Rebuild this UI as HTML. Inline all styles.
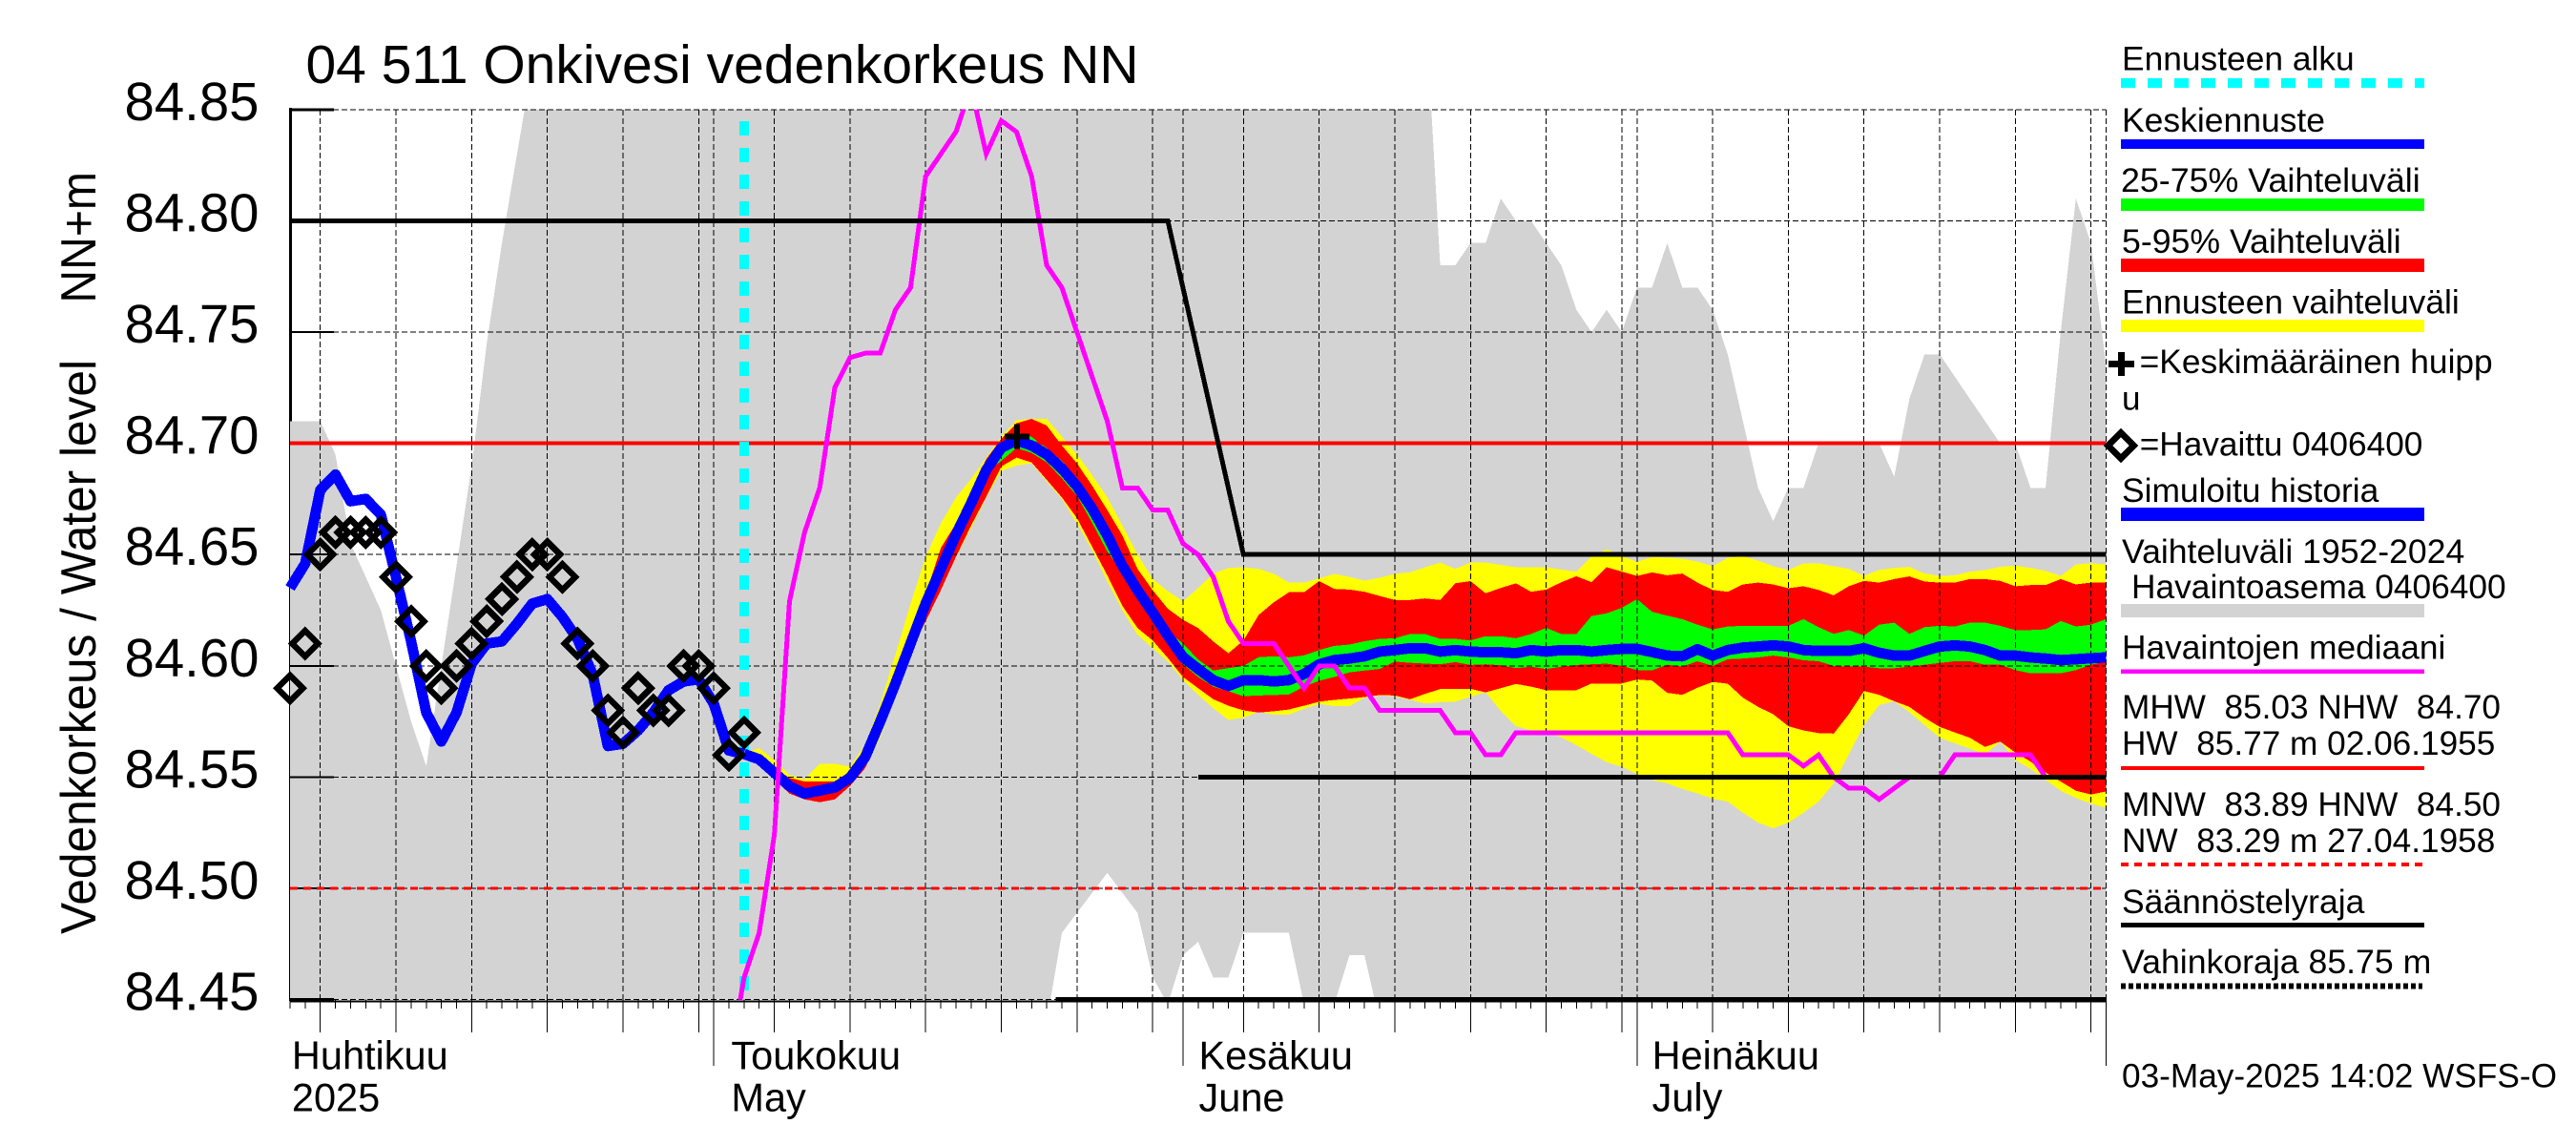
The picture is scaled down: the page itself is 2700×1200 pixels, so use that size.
<!DOCTYPE html>
<html lang="fi">
<head>
<meta charset="utf-8">
<title>04 511 Onkivesi vedenkorkeus NN</title>
<style>
html,body{margin:0;padding:0;background:#fff;}
svg{display:block;}
text{font-family:"Liberation Sans",sans-serif;fill:#000;white-space:pre;}
.leg{font-size:35px;}
.tick{font-size:57px;}
.mon{font-size:41.5px;}
</style>
</head>
<body>
<svg id="chart" xmlns="http://www.w3.org/2000/svg" width="2700" height="1200" viewBox="0 0 2700 1200" shape-rendering="crispEdges">
  <defs>
    <clipPath id="plot-clip"><rect x="304" y="114.8" width="1904" height="933"/></clipPath>
  </defs>
  <rect x="0" y="0" width="2700" height="1200" fill="#fff"/>
  <text x="320.5" y="87" font-size="57" textLength="873" lengthAdjust="spacingAndGlyphs">04 511 Onkivesi vedenkorkeus NN</text>
  <text transform="translate(100,979) rotate(-90)" font-size="52" textLength="602" lengthAdjust="spacingAndGlyphs">Vedenkorkeus / Water level</text>
  <text transform="translate(100,317.6) rotate(-90)" font-size="52" textLength="137.6" lengthAdjust="spacingAndGlyphs">NN+m</text>
  <rect x="303" y="113" width="3" height="936" fill="#000"/>
  <g id="marks"></g>

  <g>
    <text class="leg" x="2224" y="73.5" textLength="243.7" lengthAdjust="spacingAndGlyphs">Ennusteen alku</text>
    <line x1="2223" x2="2541" y1="87" y2="87" stroke="#00ffff" stroke-width="10" stroke-dasharray="15 13"/>
    <text class="leg" x="2224" y="137.8" textLength="213" lengthAdjust="spacingAndGlyphs">Keskiennuste</text>
    <rect x="2223" y="146" width="318" height="10" fill="#0000ff"/>
    <text class="leg" x="2223" y="201" textLength="313.7" lengthAdjust="spacingAndGlyphs">25-75% Vaihteluväli</text>
    <rect x="2223" y="208" width="318" height="13" fill="#00ff00"/>
    <text class="leg" x="2224" y="264.8" textLength="292.7" lengthAdjust="spacingAndGlyphs">5-95% Vaihteluväli</text>
    <rect x="2223" y="271" width="318" height="14" fill="#ff0000"/>
    <text class="leg" x="2224" y="328.4" textLength="353.7" lengthAdjust="spacingAndGlyphs">Ennusteen vaihteluväli</text>
    <rect x="2223" y="335" width="318" height="13" fill="#ffff00"/>
    <g>
      <rect x="2210" y="378" width="27" height="7" fill="#000"/>
      <rect x="2220" y="369" width="7" height="25" fill="#000"/>
    </g>
    <text class="leg" x="2242.7" y="391" textLength="370" lengthAdjust="spacingAndGlyphs">=Keskimääräinen huipp</text>
    <text class="leg" x="2224" y="429.4">u</text>
    <polygon points="2223,453.5 2236.5,467 2223,480.5 2209.5,467" fill="none" stroke="#000" stroke-width="6.4"/>
    <text class="leg" x="2242.7" y="477.6" textLength="296.7" lengthAdjust="spacingAndGlyphs">=Havaittu 0406400</text>
    <text class="leg" x="2224" y="526" textLength="269.3" lengthAdjust="spacingAndGlyphs">Simuloitu historia</text>
    <rect x="2223" y="532" width="318" height="14" fill="#0000ff"/>
    <text class="leg" x="2224" y="590" textLength="359.3" lengthAdjust="spacingAndGlyphs">Vaihteluväli 1952-2024</text>
    <text class="leg" x="2234" y="626.8" textLength="392.7" lengthAdjust="spacingAndGlyphs">Havaintoasema 0406400</text>
    <rect x="2223" y="633" width="318" height="14" fill="#d3d3d3"/>
    <text class="leg" x="2224" y="690.7" textLength="339.3" lengthAdjust="spacingAndGlyphs">Havaintojen mediaani</text>
    <rect x="2223" y="701.5" width="318" height="4.5" fill="#ff00ff"/>
    <text class="leg" x="2224" y="753" textLength="397" lengthAdjust="spacingAndGlyphs">MHW  85.03 NHW  84.70</text>
    <text class="leg" x="2224" y="791" textLength="391.3" lengthAdjust="spacingAndGlyphs">HW  85.77 m 02.06.1955</text>
    <rect x="2223" y="803" width="318" height="4" fill="#ff0000"/>
    <text class="leg" x="2224" y="855" textLength="397" lengthAdjust="spacingAndGlyphs">MNW  83.89 HNW  84.50</text>
    <text class="leg" x="2224" y="893" textLength="391.3" lengthAdjust="spacingAndGlyphs">NW  83.29 m 27.04.1958</text>
    <line x1="2223" x2="2541" y1="906" y2="906" stroke="#ff0000" stroke-width="4" stroke-dasharray="8 6"/>
    <text class="leg" x="2224" y="957" textLength="254.3" lengthAdjust="spacingAndGlyphs">Säännöstelyraja</text>
    <rect x="2223" y="967" width="318" height="5" fill="#000"/>
    <text class="leg" x="2224" y="1020" textLength="324.3" lengthAdjust="spacingAndGlyphs">Vahinkoraja 85.75 m</text>
    <line x1="2223" x2="2539" y1="1033.5" y2="1033.5" stroke="#000" stroke-width="6" stroke-dasharray="5 3"/>
    <text class="leg" x="2224" y="1139.6" textLength="456" lengthAdjust="spacingAndGlyphs">03-May-2025 14:02 WSFS-O</text>
  </g>
</svg>

<script>
// Axis definitions (day 0 = 3 April 2025)
const yTickValues = [84.85, 84.80, 84.75, 84.70, 84.65, 84.60, 84.55, 84.50, 84.45];
const yTickLabels = ["84.85", "84.80", "84.75", "84.70", "84.65", "84.60", "84.55", "84.50", "84.45"];
const gridDays = [2, 7, 12, 17, 22, 27, 32, 37, 42, 47, 52, 57, 63, 68, 73, 78, 83, 88, 94, 99, 104, 109, 114, 119];
const monthDays = [28, 59, 89, 120];
const monthLabelDays = [0.12, 29.15, 60.05, 90];
const monthLabelsFi = ["Huhtikuu", "Toukokuu", "Kesäkuu", "Heinäkuu"];
const monthLabelsEn = ["2025", "May", "June", "July"];
const totalDays = 120;

// Reference levels
const hwLevel = 84.70;
const nwLevel = 84.50;
const floorLevel = 84.45;
const floorStartDay = 50.6;
const forecastStartDay = 30;
const peakDay = 48.04;
const peakValue = 84.703;
const upperLimitDays = [0, 58, 63, 120];
const upperLimitValues = [84.80, 84.80, 84.65, 84.65];
const lowerLimitDays = [60, 120];
const lowerLimitValues = [84.55, 84.55];

// Historic range 1952-2024, day 0..120
const greyTop = [84.71,84.71,84.71,84.695,84.655,84.64,84.625,84.60,84.575,84.555,
84.60,84.645,84.69,84.745,84.79,84.83,84.87,84.90,84.90,84.90,
84.90,84.90,84.90,84.90,84.90,84.90,84.90,84.90,84.90,84.90,
84.90,84.90,84.90,84.90,84.90,84.90,84.90,84.90,84.90,84.90,
84.90,84.90,84.90,84.90,84.90,84.90,84.90,84.90,84.90,84.90,
84.90,84.90,84.90,84.90,84.90,84.90,84.90,84.90,84.90,84.90,
84.90,84.90,84.90,84.90,84.90,84.90,84.90,84.90,84.90,84.90,
84.90,84.90,84.90,84.90,84.90,84.90,84.78,84.78,84.79,84.79,
84.81,84.80,84.80,84.79,84.78,84.76,84.75,84.76,84.75,84.77,
84.77,84.79,84.77,84.77,84.76,84.74,84.71,84.68,84.665,84.68,
84.68,84.70,84.70,84.70,84.70,84.70,84.685,84.72,84.74,84.74,
84.73,84.72,84.71,84.70,84.70,84.68,84.68,84.75,84.81,84.79,84.735];
const greyBottom = [84.44,84.44,84.44,84.44,84.44,84.44,84.44,84.44,84.44,84.44,
84.44,84.44,84.44,84.44,84.44,84.44,84.44,84.44,84.44,84.44,
84.44,84.44,84.44,84.44,84.44,84.44,84.44,84.44,84.44,84.44,
84.44,84.44,84.44,84.44,84.44,84.44,84.44,84.44,84.44,84.44,
84.44,84.44,84.44,84.44,84.44,84.44,84.44,84.44,84.44,84.44,
84.44,84.48,84.489,84.498,84.507,84.498,84.489,84.46,84.448,84.47,
84.476,84.46,84.46,84.48,84.48,84.48,84.48,84.448,84.448,84.448,
84.47,84.47,84.44,84.44,84.44,84.44,84.44,84.44,84.44,84.44,
84.44,84.44,84.44,84.44,84.44,84.44,84.44,84.44,84.44,84.44,
84.44,84.44,84.44,84.44,84.44,84.44,84.44,84.44,84.44,84.44,
84.44,84.44,84.44,84.44,84.44,84.44,84.44,84.44,84.44,84.44,
84.44,84.44,84.44,84.44,84.44,84.44,84.44,84.44,84.44,84.44,84.44];

// Observed values, day 0..30
const observedValues = [84.59,84.61,84.65,84.66,84.66,84.66,84.66,84.64,84.62,84.60,
84.59,84.60,84.61,84.62,84.63,84.64,84.65,84.65,84.64,84.61,
84.60,84.58,84.57,84.59,84.58,84.58,84.60,84.60,84.59,84.56,84.57];

// Simulated history, day 0..30
const historyValues = [84.635,84.646,84.679,84.686,84.674,84.675,84.668,84.640,84.611,84.579,
84.566,84.579,84.601,84.610,84.611,84.619,84.628,84.630,84.622,84.612,
84.596,84.564,84.565,84.571,84.579,84.589,84.593,84.594,84.583,84.562,84.5604];

// Forecast series, day 30..120
const yellowTop = [84.561,84.563,84.5576,84.551,84.549,84.556,84.556,84.5547,84.5647,84.583,
84.605,84.628,84.649,84.664,84.6757,84.684,84.6936,84.703,84.7104,84.711,
84.711,84.703,84.695,84.6857,84.6757,84.663,84.65,84.639,84.6336,84.629,
84.635,84.6414,84.644,84.6443,84.6436,84.6414,84.6374,84.6374,84.6393,84.6413,
84.64,84.6383,84.6396,84.6413,84.6421,84.6443,84.6464,84.6436,84.6464,84.6464,
84.6454,84.6443,84.6443,84.6443,84.6433,84.6424,84.6493,84.6524,84.6493,84.6467,
84.6489,84.6486,84.6481,84.6469,84.6448,84.6486,84.6492,84.6473,84.6448,84.6431,
84.6461,84.6461,84.6448,84.6436,84.6404,84.6431,84.644,84.6445,84.6415,84.6404,
84.6407,84.6423,84.6431,84.6445,84.6451,84.644,84.6427,84.6404,84.6456,84.6461,84.6456];
const yellowBottom = [84.559,84.557,84.551,84.545,84.54,84.5387,84.54,84.546,84.554,84.568,
84.586,84.605,84.622,84.635,84.649,84.662,84.6757,84.6876,84.69,84.691,
84.683,84.675,84.664,84.652,84.638,84.625,84.614,84.608,84.602,84.5936,
84.587,84.581,84.5757,84.5767,84.5793,84.5781,84.5781,84.5807,84.5829,84.5819,
84.5819,84.5857,84.5867,84.5864,84.5847,84.5831,84.5836,84.5839,84.5861,84.5881,
84.5797,84.5729,84.571,84.5704,84.5679,84.5643,84.5604,84.5567,84.5546,84.5514,
84.5488,84.5472,84.5447,84.5427,84.5403,84.539,84.534,84.5296,84.527,84.5296,
84.534,84.539,84.5472,84.5603,84.5734,84.5824,84.5841,84.5792,84.5734,84.5677,
84.5652,84.5628,84.5603,84.566,84.5578,84.5537,84.5488,84.5439,84.5406,84.5381,84.5362];
const redTop = [84.5605,84.5585,84.554,84.5497,84.548,84.548,84.548,84.5526,84.5604,84.5775,
84.595,84.612,84.632,84.653,84.664,84.678,84.693,84.702,84.709,84.711,
84.708,84.699,84.691,84.681,84.67,84.6586,84.6436,84.634,84.6257,84.6207,
84.617,84.611,84.6057,84.6114,84.6229,84.6286,84.6331,84.6331,84.6381,84.6346,
84.6343,84.6333,84.6314,84.6296,84.6296,84.6303,84.6296,84.6371,84.6381,84.6326,
84.635,84.6371,84.6333,84.6343,84.6376,84.6403,84.6376,84.6443,84.6424,84.6404,
84.642,84.6407,84.6415,84.6374,84.6341,84.6333,84.6366,84.6374,84.6366,84.6349,
84.6358,84.6341,84.6317,84.6358,84.6382,84.6374,84.639,84.6402,84.6379,84.6374,
84.6374,84.639,84.639,84.6382,84.6358,84.6363,84.6363,84.639,84.6366,84.6374,84.6374];
const redBottom = [84.5595,84.557,84.549,84.5426,84.54,84.5387,84.54,84.546,84.554,84.569,
84.588,84.6064,84.62,84.634,84.649,84.663,84.676,84.6896,84.6936,84.6914,
84.6836,84.6757,84.6664,84.6536,84.6407,84.627,84.617,84.6114,84.6036,84.595,
84.59,84.585,84.5821,84.58,84.579,84.5796,84.5804,84.5821,84.5839,84.5847,
84.5853,84.586,84.5869,84.5867,84.585,84.5874,84.5896,84.5897,84.5897,84.5881,
84.59,84.5919,84.5907,84.5891,84.5891,84.5891,84.5921,84.5921,84.5921,84.5939,
84.5934,84.5879,84.587,84.5902,84.5928,84.592,84.5857,84.5816,84.5783,84.5729,
84.571,84.5698,84.5696,84.5783,84.5887,84.587,84.5841,84.5816,84.5767,84.5726,
84.5701,84.5677,84.5636,84.566,84.5611,84.557,84.5521,84.548,84.5439,84.5422,84.5436];
const greenTop = [84.561,84.559,84.553,84.547,84.5436,84.545,84.5464,84.551,84.56,84.576,
84.593,84.611,84.629,84.645,84.66,84.674,84.689,84.699,84.705,84.7029,
84.6979,84.6921,84.6843,84.6743,84.6621,84.6479,84.6371,84.6271,84.6157,84.61,
84.6029,84.5979,84.599,84.6,84.6039,84.6043,84.6039,84.6047,84.6071,84.609,
84.6096,84.6111,84.6121,84.6124,84.6143,84.6143,84.6121,84.6121,84.6114,84.6133,
84.6133,84.6124,84.6143,84.6171,84.6143,84.6143,84.6224,84.6236,84.6261,84.63,
84.6243,84.6226,84.621,84.6185,84.6164,84.6177,84.618,84.618,84.618,84.618,
84.621,84.6174,84.6144,84.6161,84.6136,84.6185,84.6194,84.6144,84.6174,84.618,
84.6177,84.6194,84.6194,84.618,84.6161,84.6161,84.6164,84.6202,84.6177,84.6185,84.621];
const greenBottom = [84.56,84.557,84.551,84.545,84.5416,84.543,84.5444,84.549,84.558,84.574,
84.591,84.609,84.627,84.642,84.658,84.672,84.687,84.6921,84.6979,84.6957,
84.6914,84.6843,84.6764,84.6643,84.6514,84.6421,84.6314,84.6214,84.6107,84.6007,
84.595,84.5907,84.5886,84.5864,84.5867,84.5869,84.5871,84.5907,84.5933,84.595,
84.5971,84.5979,84.5986,84.6019,84.6014,84.601,84.6007,84.6017,84.6004,84.6007,
84.6003,84.599,84.5996,84.5986,84.5996,84.6004,84.6007,84.601,84.6,84.5981,
84.598,84.6005,84.5997,84.6021,84.6,84.603,84.6033,84.6038,84.6046,84.6038,
84.6025,84.6021,84.6,84.5997,84.5997,84.5989,84.5989,84.5997,84.6005,84.6013,
84.6021,84.6021,84.6005,84.6005,84.5981,84.5967,84.5967,84.5967,84.5981,84.6005,84.6021];
const meanForecast = [84.5604,84.558,84.552,84.546,84.5426,84.544,84.5454,84.5497,84.559,84.575,
84.592,84.61,84.628,84.6436,84.659,84.673,84.688,84.698,84.7014,84.699,
84.695,84.6886,84.6807,84.6707,84.6586,84.645,84.634,84.624,84.6136,84.604,
84.5986,84.5936,84.591,84.5936,84.5936,84.593,84.5936,84.5964,84.6007,84.6026,
84.6033,84.6043,84.6064,84.6071,84.6079,84.6079,84.6064,84.6071,84.6064,84.6061,
84.6061,84.6057,84.6071,84.6064,84.6071,84.6071,84.6064,84.6071,84.6076,84.6076,
84.6062,84.6046,84.6043,84.6075,84.6046,84.6071,84.6082,84.6087,84.6092,84.6087,
84.6071,84.6067,84.6067,84.6067,84.6079,84.6059,84.6046,84.6046,84.6067,84.6087,
84.6092,84.6087,84.6071,84.6046,84.6046,84.6038,84.6033,84.6026,84.603,84.6034,84.6038];

// Median of observations, day 29..120
const medianStartDay = 29;
const medianValues = [84.42,84.46,84.48,84.524,84.629,84.66,84.68,84.725,84.7385,84.7405,
84.7405,84.76,84.77,84.82,84.83,84.84,84.86,84.83,84.845,84.84,
84.82,84.78,84.77,84.75,84.73,84.71,84.68,84.68,84.67,84.67,
84.655,84.65,84.64,84.62,84.61,84.61,84.61,84.60,84.59,84.60,
84.60,84.59,84.59,84.58,84.58,84.58,84.58,84.58,84.57,84.57,
84.56,84.56,84.57,84.57,84.57,84.57,84.57,84.57,84.57,84.57,
84.57,84.57,84.57,84.57,84.57,84.57,84.57,84.56,84.56,84.56,
84.56,84.555,84.56,84.55,84.545,84.545,84.54,84.545,84.55,84.55,
84.55,84.56,84.56,84.56,84.56,84.56,84.56,84.55,84.55,84.55,84.55,84.55];

// Axis functions
const X0 = 304, X1 = 2207.5, Y0 = 114.8, Y1 = 1047.7;
const VMAX = 84.85, VMIN = 84.45;
function xScale(day) { return X0 + (X1 - X0) * day / totalDays; }
function yScale(v) { return Y0 + (Y1 - Y0) * (VMAX - v) / (VMAX - VMIN); }

const NS = 'http://www.w3.org/2000/svg';
const root = document.getElementById('marks');
function mk(tag, attrs, parent) {
  const node = document.createElementNS(NS, tag);
  for (const k in attrs) node.setAttribute(k, attrs[k]);
  (parent || root).appendChild(node);
  return node;
}
function linePoints(startDay, values) {
  return values.map(function (v, i) { return xScale(startDay + i).toFixed(1) + ',' + yScale(v).toFixed(1); }).join(' ');
}
function bandPoints(startDay, top, bottom) {
  const up = top.map(function (v, i) { return xScale(startDay + i).toFixed(1) + ',' + yScale(v).toFixed(1); });
  const down = bottom.map(function (v, i) { return xScale(startDay + i).toFixed(1) + ',' + yScale(v).toFixed(1); }).reverse();
  return up.concat(down).join(' ');
}
function xyPoints(days, values) {
  return days.map(function (d, i) { return xScale(d).toFixed(1) + ',' + yScale(values[i]).toFixed(1); }).join(' ');
}
let el;

// Historic range band
el = mk('polygon', { points: bandPoints(0, greyTop, greyBottom), fill: '#d3d3d3', 'clip-path': 'url(#plot-clip)' });



// Forecast bands
el = mk('polygon', { points: bandPoints(forecastStartDay, yellowTop, yellowBottom), fill: '#ffff00' });


el = mk('polygon', { points: bandPoints(forecastStartDay, redTop, redBottom), fill: '#ff0000' });


el = mk('polygon', { points: bandPoints(forecastStartDay, greenTop, greenBottom), fill: '#00ff00' });



// Grid
gridDays.concat(monthDays).forEach(function (d) {
  const g = mk('line', { x1: xScale(d).toFixed(1), x2: xScale(d).toFixed(1), y1: Y0, y2: Y1, stroke: '#000', 'stroke-width': 1, 'stroke-dasharray': '6 3' });
  
  
});
yTickValues.forEach(function (v) {
  const g = mk('line', { x1: X0, x2: X1, y1: yScale(v).toFixed(1), y2: yScale(v).toFixed(1), stroke: '#000', 'stroke-width': 1, 'stroke-dasharray': '6 3' });
  
  
});

// X axis baseline
el = mk('line', { x1: X0, x2: X1, y1: 1049.5, y2: 1049.5, stroke: '#000', 'stroke-width': 2 });



// Y ticks and labels
yTickValues.forEach(function (v, i) {
  const t = mk('line', { x1: 304, x2: 350, y1: yScale(v).toFixed(1), y2: yScale(v).toFixed(1), stroke: '#000', 'stroke-width': (i === 0 || i === yTickValues.length - 1) ? 3 : 2 });
  
  
  const lab = mk('text', { class: 'tick', x: 130.5, y: (yScale(v) + 11).toFixed(1), textLength: 141, lengthAdjust: 'spacingAndGlyphs' });
  lab.textContent = yTickLabels[i];
  
  
});

// X ticks
for (let d = 0; d <= totalDays; d++) {
  const t = mk('line', { x1: xScale(d).toFixed(1), x2: xScale(d).toFixed(1), y1: Y1, y2: 1057, stroke: '#000', 'stroke-width': 1 });
  
  
}
gridDays.forEach(function (d) {
  const t = mk('line', { x1: xScale(d).toFixed(1), x2: xScale(d).toFixed(1), y1: Y1, y2: 1082, stroke: '#000', 'stroke-width': 1 });
  
  
});
monthDays.forEach(function (d) {
  const t = mk('line', { x1: xScale(d).toFixed(1), x2: xScale(d).toFixed(1), y1: Y1, y2: 1117, stroke: '#000', 'stroke-width': 1 });
  
  
});
monthLabelsFi.forEach(function (name, i) {
  const a = mk('text', { class: 'mon', x: xScale(monthLabelDays[i]).toFixed(1), y: 1120.5 });
  a.textContent = name;
  
  
  const b = mk('text', { class: 'mon', x: xScale(monthLabelDays[i]).toFixed(1), y: 1164.5 });
  b.textContent = monthLabelsEn[i];
  
  
});

// Reference lines
el = mk('line', { x1: X0, x2: X1, y1: yScale(hwLevel).toFixed(1), y2: yScale(hwLevel).toFixed(1), stroke: '#ff0000', 'stroke-width': 4 });


el = mk('line', { x1: X0, x2: X1, y1: yScale(nwLevel).toFixed(1), y2: yScale(nwLevel).toFixed(1), stroke: '#ff0000', 'stroke-width': 3, 'stroke-dasharray': '8 6' });



// Forecast start
el = mk('line', { x1: xScale(forecastStartDay).toFixed(1), x2: xScale(forecastStartDay).toFixed(1), y1: 127, y2: Y1, stroke: '#00ffff', 'stroke-width': 10, 'stroke-dasharray': '15 13' });



// Simulated history and mean forecast
el = mk('polyline', { points: linePoints(0, historyValues), fill: 'none', stroke: '#0000ff', 'stroke-width': 11, 'stroke-linejoin': 'round' });


el = mk('polyline', { points: linePoints(forecastStartDay, meanForecast), fill: 'none', stroke: '#0000ff', 'stroke-width': 11, 'stroke-linejoin': 'round' });



// Median
el = mk('polyline', { points: linePoints(medianStartDay, medianValues), fill: 'none', stroke: '#ff00ff', 'stroke-width': 5, 'clip-path': 'url(#plot-clip)' });



// Regulation limits
el = mk('polyline', { points: xyPoints(upperLimitDays, upperLimitValues), fill: 'none', stroke: '#000', 'stroke-width': 5 });


el = mk('polyline', { points: xyPoints(lowerLimitDays, lowerLimitValues), fill: 'none', stroke: '#000', 'stroke-width': 5 });


el = mk('line', { x1: xScale(floorStartDay).toFixed(1), x2: X1, y1: yScale(floorLevel).toFixed(1), y2: yScale(floorLevel).toFixed(1), stroke: '#000', 'stroke-width': 5 });



// Observed diamonds
observedValues.forEach(function (v, i) {
  const cx = xScale(i), cy = yScale(v), r = 13.5;
  const pts = [cx, cy - r, cx + r, cy, cx, cy + r, cx - r, cy].map(function (n) { return n.toFixed(1); }).join(' ');
  const d = mk('polygon', { points: pts, fill: 'none', stroke: '#000', 'stroke-width': 6.4 });
  
  
});

// Mean peak marker
const plusGroup = mk('g', {});


mk('rect', { x: (xScale(peakDay) - 13).toFixed(1), y: (yScale(peakValue) - 3).toFixed(1), width: 26, height: 6, fill: '#000' }, plusGroup);
mk('rect', { x: (xScale(peakDay) - 3).toFixed(1), y: (yScale(peakValue) - 13).toFixed(1), width: 6, height: 26, fill: '#000' }, plusGroup);
</script>
</body>
</html>
